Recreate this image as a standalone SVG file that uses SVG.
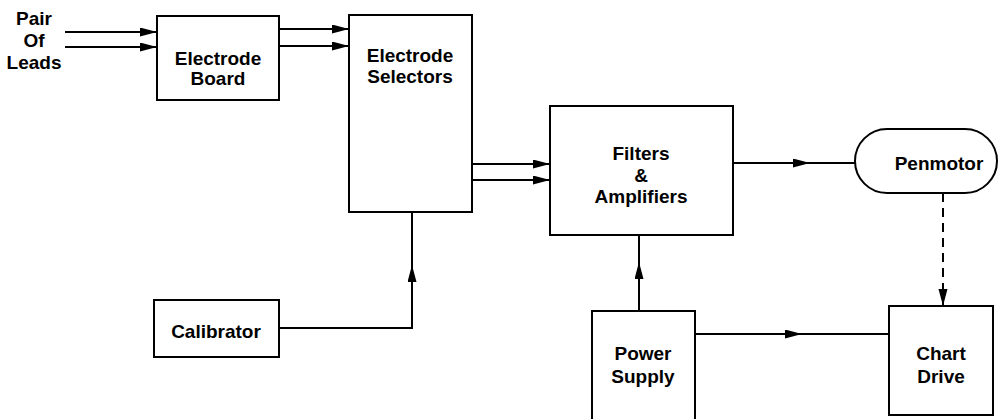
<svg xmlns="http://www.w3.org/2000/svg" width="1002" height="419" viewBox="0 0 1002 419">
<style>
.box{fill:#fff;stroke:#000;stroke-width:2}
.ln{fill:none;stroke:#000;stroke-width:2}
.dash{fill:none;stroke:#000;stroke-width:2;stroke-dasharray:9 6}
text{font-family:"Liberation Sans",Arial,sans-serif;font-weight:bold;font-size:19px;fill:#000;text-anchor:middle}
</style>
<defs>
<marker id="ah" markerUnits="userSpaceOnUse" markerWidth="18" markerHeight="10" refX="17" refY="4.5" orient="auto">
<path d="M0,0 L17,4.5 L0,9 z" fill="#000"/>
</marker>
</defs>
<rect width="1002" height="419" fill="#fff"/>
<g id="connectors">
<line class="ln" x1="65" y1="32" x2="157" y2="32" marker-end="url(#ah)"/>
<line class="ln" x1="65" y1="47" x2="157" y2="47" marker-end="url(#ah)"/>
<line class="ln" x1="279" y1="29" x2="349" y2="29" marker-end="url(#ah)"/>
<line class="ln" x1="279" y1="46" x2="349" y2="46" marker-end="url(#ah)"/>
<line class="ln" x1="472" y1="164" x2="550" y2="164" marker-end="url(#ah)"/>
<line class="ln" x1="472" y1="180" x2="550" y2="180" marker-end="url(#ah)"/>
<polyline class="ln" points="279,328 412,328 412,265" marker-end="url(#ah)"/>
<line class="ln" x1="412" y1="266" x2="412" y2="212"/>
<line class="ln" x1="733" y1="163" x2="810" y2="163" marker-end="url(#ah)"/>
<line class="ln" x1="809" y1="163" x2="855" y2="163"/>
<line class="ln" x1="639" y1="311" x2="639" y2="262" marker-end="url(#ah)"/>
<line class="ln" x1="639" y1="263" x2="639" y2="235"/>
<line class="ln" x1="695" y1="334" x2="802" y2="334" marker-end="url(#ah)"/>
<line class="ln" x1="801" y1="334" x2="889" y2="334"/>
<line class="dash" x1="943" y1="193" x2="943" y2="306" marker-end="url(#ah)"/>
</g>
<g id="leads">
<text x="34" y="25">Pair</text>
<text x="34" y="47">Of</text>
<text x="34" y="69">Leads</text>
</g>
<g id="electrode-board">
<rect class="box" x="157" y="16" width="122" height="84"/>
<text x="218" y="65">Electrode</text>
<text x="218" y="85">Board</text>
</g>
<g id="electrode-selectors">
<rect class="box" x="349" y="15" width="123" height="197"/>
<text x="410" y="62">Electrode</text>
<text x="410" y="83">Selectors</text>
</g>
<g id="calibrator">
<rect class="box" x="154" y="300" width="125" height="57"/>
<text x="216" y="338">Calibrator</text>
</g>
<g id="filters-amplifiers">
<rect class="box" x="550" y="106" width="183" height="129"/>
<text x="641" y="160">Filters</text>
<text x="641" y="182">&amp;</text>
<text x="641" y="203">Amplifiers</text>
</g>
<g id="penmotor">
<rect class="box" x="855" y="129" width="142" height="64" rx="32" ry="32"/>
<text x="939" y="170">Penmotor</text>
</g>
<g id="power-supply">
<rect class="box" x="592" y="311" width="103" height="120"/>
<text x="643" y="360">Power</text>
<text x="643" y="383">Supply</text>
</g>
<g id="chart-drive">
<rect class="box" x="889" y="306" width="104" height="109"/>
<text x="941" y="360">Chart</text>
<text x="941" y="383">Drive</text>
</g>
</svg>
